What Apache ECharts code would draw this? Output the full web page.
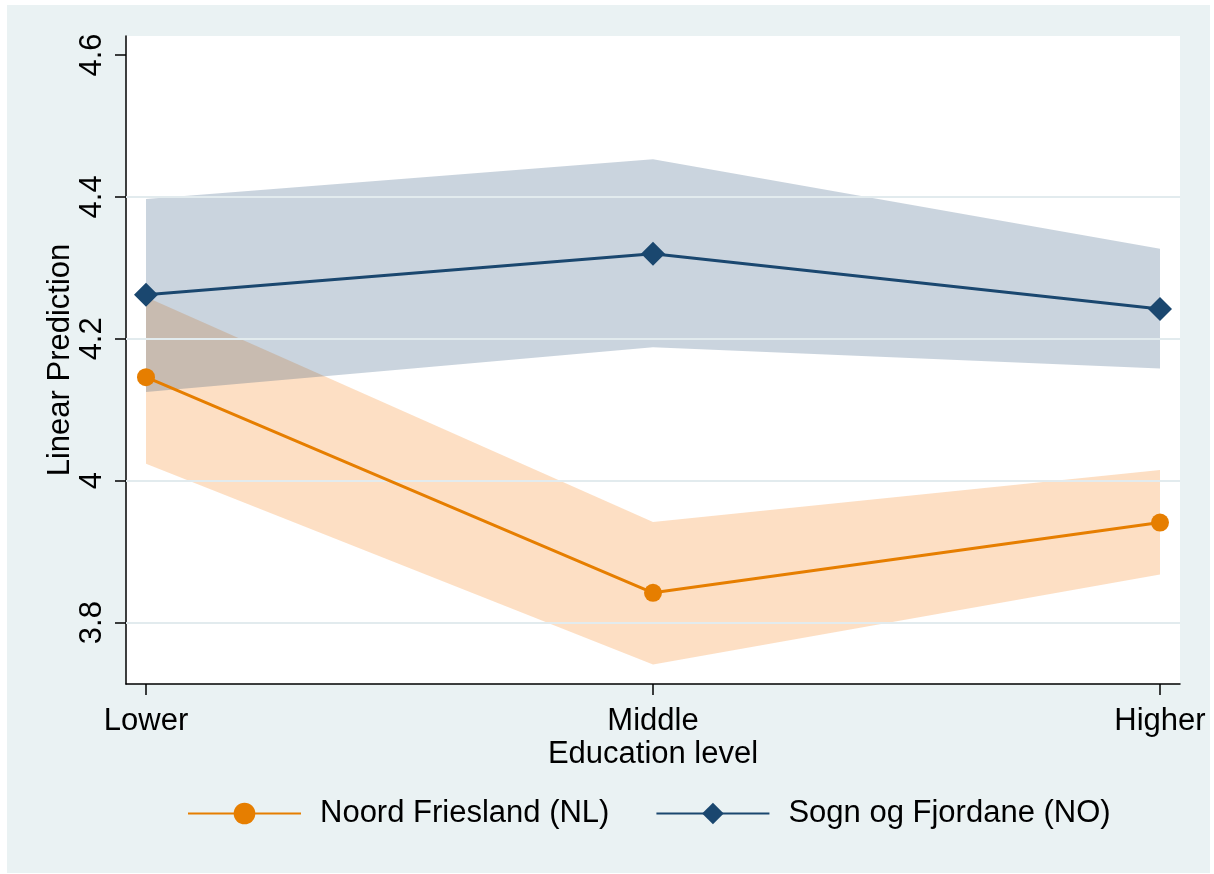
<!DOCTYPE html>
<html>
<head>
<meta charset="utf-8">
<script src="https://cdn.jsdelivr.net/npm/echarts@6/dist/echarts.min.js"></script>
<style>
  html, body { margin: 0; padding: 0; background: #ffffff; }
  #frame { position: absolute; left: 7px; top: 5px; width: 1203px; height: 868px; background: #eaf2f3; }
  #chart { position: absolute; left: 0; top: 0; width: 1214px; height: 874px; }
</style>
</head>
<body>
<div id="frame"></div>
<div id="chart"></div>
<script>
// Education levels on the x axis (positions 1..3)
const categories = ['Lower', 'Middle', 'Higher'];
const catPos = [1, 2, 3];

// Y axis tick labels and grid lines
const yTicks = [3.8, 4.0, 4.2, 4.4, 4.6];
const gridValues = [3.8, 4.0, 4.2, 4.4];

// Noord Friesland (NL): predicted value with 95% CI
const nfMean = [4.146, 3.842, 3.941];
const nfLow  = [4.024, 3.741, 3.868];
const nfHigh = [4.259, 3.942, 4.015];

// Sogn og Fjordane (NO): predicted value with 95% CI
const sfMean = [4.262, 4.320, 4.242];
const sfLow  = [4.125, 4.188, 4.158];
const sfHigh = [4.397, 4.453, 4.327];

const ORANGE = '#e67e00';
const NAVY = '#1a476f';
const FONT = "'Liberation Sans', Arial, sans-serif";

// Confidence band drawn as one polygon through the axis scales
function bandSeries(name, low, high, fill, z) {
  return {
    type: 'custom',
    name: name,
    silent: true,
    z: z,
    data: catPos.map((x, i) => [x, low[i], high[i]]),
    encode: { x: 0, y: [1, 2] },
    renderItem: function (params, api) {
      if (params.dataIndex !== 0) return null;
      const top = catPos.map((x, i) => api.coord([x, high[i]]));
      const bottom = catPos.map((x, i) => api.coord([x, low[i]])).reverse();
      return {
        type: 'polygon',
        shape: { points: top.concat(bottom) },
        style: { fill: fill }
      };
    }
  };
}

const chart = echarts.init(document.getElementById('chart'), null, { renderer: 'canvas' });

chart.setOption({
  backgroundColor: 'transparent',
  animation: false,
  textStyle: { fontFamily: FONT },
  grid: {
    left: 126, top: 36, right: 34, bottom: 190,
    show: true, backgroundColor: '#ffffff', borderWidth: 0
  },
  xAxis: {
    type: 'value',
    min: 1 - 20 / 507,
    max: 3 + 20 / 507,
    axisLine: { show: true, onZero: false, lineStyle: { color: '#000', width: 1.5 } },
    axisTick: { show: true, customValues: catPos, length: 11, lineStyle: { color: '#000', width: 1.5 } },
    axisLabel: {
      customValues: catPos,
      formatter: v => categories[catPos.indexOf(v)],
      fontSize: 31, color: '#000', margin: 22, fontFamily: FONT
    },
    splitLine: { show: false },
    name: 'Education level',
    nameLocation: 'middle',
    nameGap: 55,
    nameMoveOverlap: false,
    nameTextStyle: { fontSize: 31, color: '#000', fontFamily: FONT }
  },
  yAxis: {
    type: 'value',
    min: 3.7135,
    max: 4.6268,
    axisLine: { show: true, onZero: false, lineStyle: { color: '#000', width: 1.5 } },
    axisTick: { show: true, customValues: yTicks, length: 11, lineStyle: { color: '#000', width: 1.5 } },
    axisLabel: {
      customValues: yTicks,
      formatter: v => String(Math.round(v * 10) / 10),
      rotate: 90,
      fontSize: 31, color: '#000', margin: 18, fontFamily: FONT
    },
    splitLine: { show: false },
    name: 'Linear Prediction',
    nameLocation: 'middle',
    nameGap: 50,
    nameMoveOverlap: false,
    nameTextStyle: { fontSize: 31, color: '#000', fontFamily: FONT }
  },
  legend: {
    left: 182,
    top: 793,
    itemWidth: 113,
    itemHeight: 27,
    itemGap: 46,
    textStyle: { fontSize: 31, color: '#000', padding: [0, 0, 0, 14], fontFamily: FONT },
    data: ['Noord Friesland (NL)', 'Sogn og Fjordane (NO)']
  },
  series: [
    {
      type: 'line',
      name: 'grid',
      silent: true,
      z: 1,
      data: [],
      markLine: {
        silent: true,
        symbol: 'none',
        label: { show: false },
        lineStyle: { color: '#e2ebee', width: 2, type: 'solid' },
        data: gridValues.map(v => ({ yAxis: v }))
      }
    },
    bandSeries('nf-ci', nfLow, nfHigh, 'rgba(250,150,60,0.3)', 2),
    bandSeries('sf-ci', sfLow, sfHigh, 'rgba(26,71,111,0.23)', 3),
    {
      type: 'line',
      name: 'Noord Friesland (NL)',
      z: 5,
      data: catPos.map((x, i) => [x, nfMean[i]]),
      symbol: 'circle',
      symbolSize: 18,
      showAllSymbol: true,
      lineStyle: { color: ORANGE, width: 3 },
      itemStyle: { color: ORANGE }
    },
    {
      type: 'line',
      name: 'Sogn og Fjordane (NO)',
      z: 6,
      data: catPos.map((x, i) => [x, sfMean[i]]),
      symbol: 'diamond',
      symbolSize: [24, 24],
      showAllSymbol: true,
      lineStyle: { color: NAVY, width: 3 },
      itemStyle: { color: NAVY }
    }
  ]
});
</script>
</body>
</html>
